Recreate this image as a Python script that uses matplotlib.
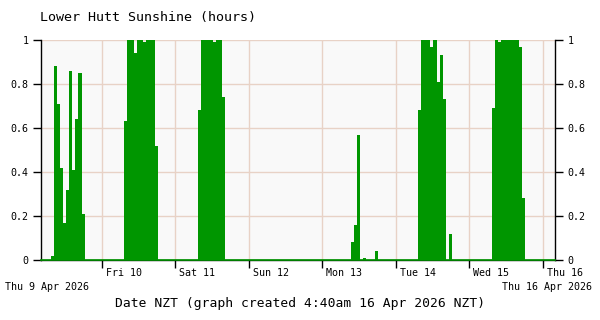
#!/usr/bin/env python3

import matplotlib as mpl
mpl.use("Agg")
import matplotlib.pyplot as plt
import matplotlib.transforms as mtransforms

# hours since Thu 9 Apr 2026 00:00 NZT, and sunshine (hours) in that hour
sun_hours = [7, 8, 9, 10, 11, 12, 13, 14, 15, 16, 17,
             31, 32, 33, 34, 35, 36, 37, 38, 39, 40, 41,
             55, 56, 57, 58, 59, 60, 61, 62, 63,
             105, 106, 107, 108, 109, 113,
             127, 128, 129, 130, 131, 132, 133, 134, 135, 136, 137,
             151, 152, 153, 154, 155, 156, 157, 158, 159, 160, 161]
sun_values = [0.02, 0.88, 0.71, 0.42, 0.17, 0.32, 0.86, 0.41, 0.64, 0.85, 0.21,
              0.63, 1.0, 1.0, 0.94, 1.0, 1.0, 0.99, 1.0, 1.0, 1.0, 0.52,
              0.68, 1.0, 1.0, 1.0, 1.0, 0.99, 1.0, 1.0, 0.74,
              0.08, 0.16, 0.57, 0.0, 0.01, 0.04,
              0.68, 1.0, 1.0, 1.0, 0.97, 1.0, 0.81, 0.93, 0.73, 0.0, 0.12,
              0.69, 1.0, 0.99, 1.0, 1.0, 1.0, 1.0, 1.0, 1.0, 0.97, 0.28]

day_ticks = [24, 48, 72, 96, 120, 144, 168]
day_labels = ["Fri 10", "Sat 11", "Sun 12", "Mon 13", "Tue 14", "Wed 15", "Thu 16"]
y_ticks = [0, 0.2, 0.4, 0.6, 0.8, 1]
y_labels = ["0", "0.2", "0.4", "0.6", "0.8", "1"]

GREEN = "#009600"
GRID = "#e8d2c6"
FONT = "DejaVu Sans Mono"


def plot_sunshine():
    fig = plt.figure(figsize=(6, 3.2), dpi=100)
    ax = fig.add_axes([0.068, 0.1875, 0.857, 0.6875])
    ax.set_facecolor("#f9f9f9")

    ax.bar([h + 0.3 for h in sun_hours], sun_values, width=1.0, align="edge",
           color=GREEN, linewidth=0, zorder=3)
    ax.axhline(0, color=GREEN, lw=1.2, zorder=5, clip_on=False)

    ax.set_xlim(4, 172)
    ax.set_ylim(0, 1)

    ax.set_xticks(day_ticks)
    ax.set_xticklabels([])
    ax.set_yticks(y_ticks)
    ax.set_yticklabels(y_labels)
    ax.tick_params(axis="y", left=True, right=True, labelleft=True, labelright=True,
                   length=6, width=1, pad=3, colors="black")
    ax.tick_params(axis="x", length=6, width=1)
    for t in ax.yaxis.get_major_ticks():
        for lab in (t.label1, t.label2):
            lab.set_family(FONT)
            lab.set_fontsize(7.2)

    ax.grid(True, color=GRID, lw=1, zorder=0)
    ax.set_axisbelow(True)

    ax.spines["top"].set_visible(False)
    for side in ("left", "right", "bottom"):
        ax.spines[side].set_linewidth(1)
        ax.spines[side].set_color("black")

    # day labels sit just right of the midnight ticks
    offset = mtransforms.ScaledTranslation(4 / 100, 0, fig.dpi_scale_trans)
    trans = mtransforms.blended_transform_factory(ax.transData, ax.transAxes) + offset
    for x, lab in zip(day_ticks, day_labels):
        ax.text(x, -0.038, lab, transform=trans, ha="left", va="top",
                family=FONT, fontsize=7.2)

    fig.text(5 / 600, 1 - 287 / 320, "Thu 9 Apr 2026", ha="left", va="center",
             family=FONT, fontsize=7.2)
    fig.text(592 / 600, 1 - 287 / 320, "Thu 16 Apr 2026", ha="right", va="center",
             family=FONT, fontsize=7.2)
    fig.text(300 / 600, 1 - 303 / 320, "Date NZT (graph created 4:40am 16 Apr 2026 NZT)",
             ha="center", va="center", family=FONT, fontsize=9.4)
    fig.text(40 / 600, 1 - 18 / 320, "Lower Hutt Sunshine (hours)", ha="left",
             va="center", family=FONT, fontsize=9.6)

    fig.savefig("out.png", dpi=100, facecolor="white")
    plt.close(fig)


if __name__ == "__main__":
    plot_sunshine()
